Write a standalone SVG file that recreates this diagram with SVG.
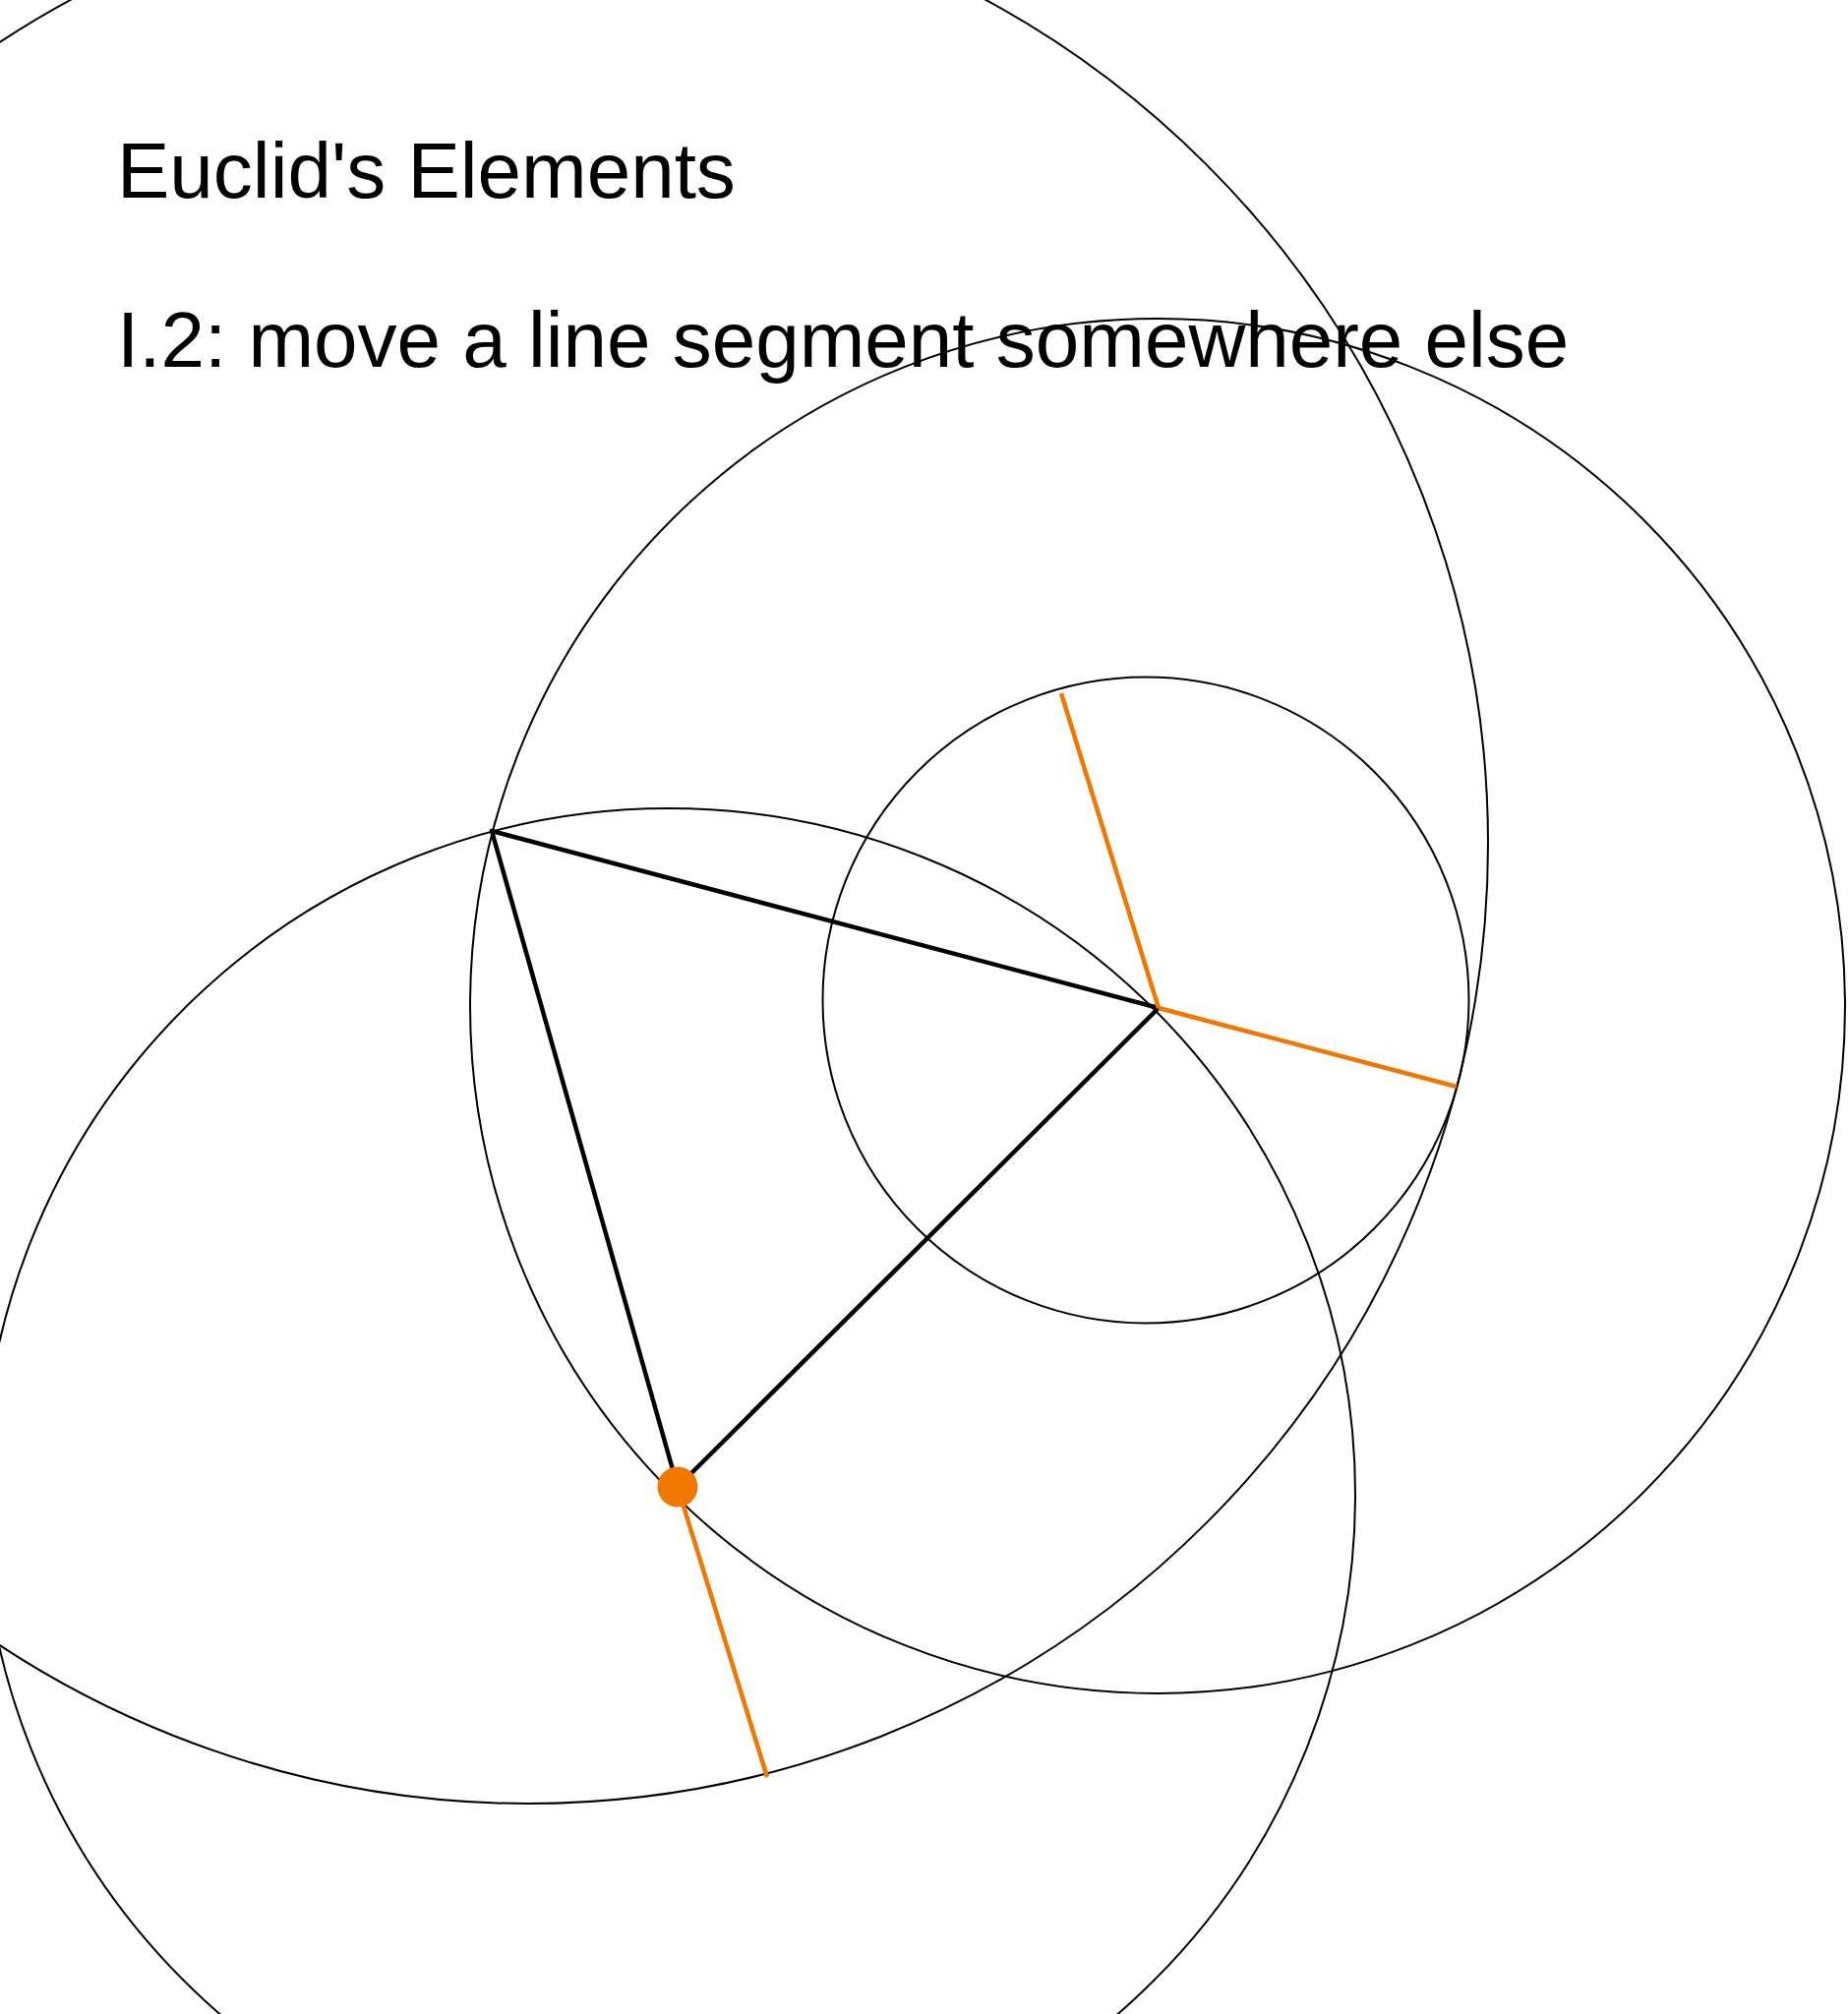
<svg xmlns="http://www.w3.org/2000/svg" width="1879" height="2048" viewBox="0 0 1879 2048">
<style>
.t{font-family:"Liberation Sans",Arial,sans-serif;font-size:80px;fill:#000}
.c{fill:none;stroke:#000;stroke-width:2}
.k{stroke:#000;stroke-width:4.5;stroke-linecap:round}
.o{stroke:#F07700;stroke-width:4.5}
</style>
<rect width="1879" height="2048" fill="#fff"/>
<g id="title">
<text class="t" x="119" y="201">Euclid's Elements</text>
<text class="t" x="119" y="373">I.2: move a line segment somewhere else</text>
</g>
<g id="circles">
<circle id="circle-B" class="c" cx="1177" cy="1023" r="699"/>
<circle id="circle-A" class="c" cx="680" cy="1520" r="698"/>
<circle id="circle-D" class="c" cx="537" cy="858" r="976"/>
<circle id="circle-small" class="c" cx="1165" cy="1017" r="328.5"/>
</g>
<g id="connectors">
<line class="k" x1="500" y1="845" x2="1178" y2="1025"/>
<line class="k" x1="500" y1="845" x2="689" y2="1512"/>
<line class="k" x1="1178" y1="1025" x2="689" y2="1512"/>
<line class="o" x1="1178" y1="1025" x2="1079" y2="705"/>
<line class="o" x1="1178" y1="1025" x2="1481" y2="1105"/>
<line class="o" x1="689" y1="1512" x2="780" y2="1807"/>
</g>
<g id="point">
<circle cx="689" cy="1512" r="20.5" fill="#F07700"/>
</g>
</svg>
